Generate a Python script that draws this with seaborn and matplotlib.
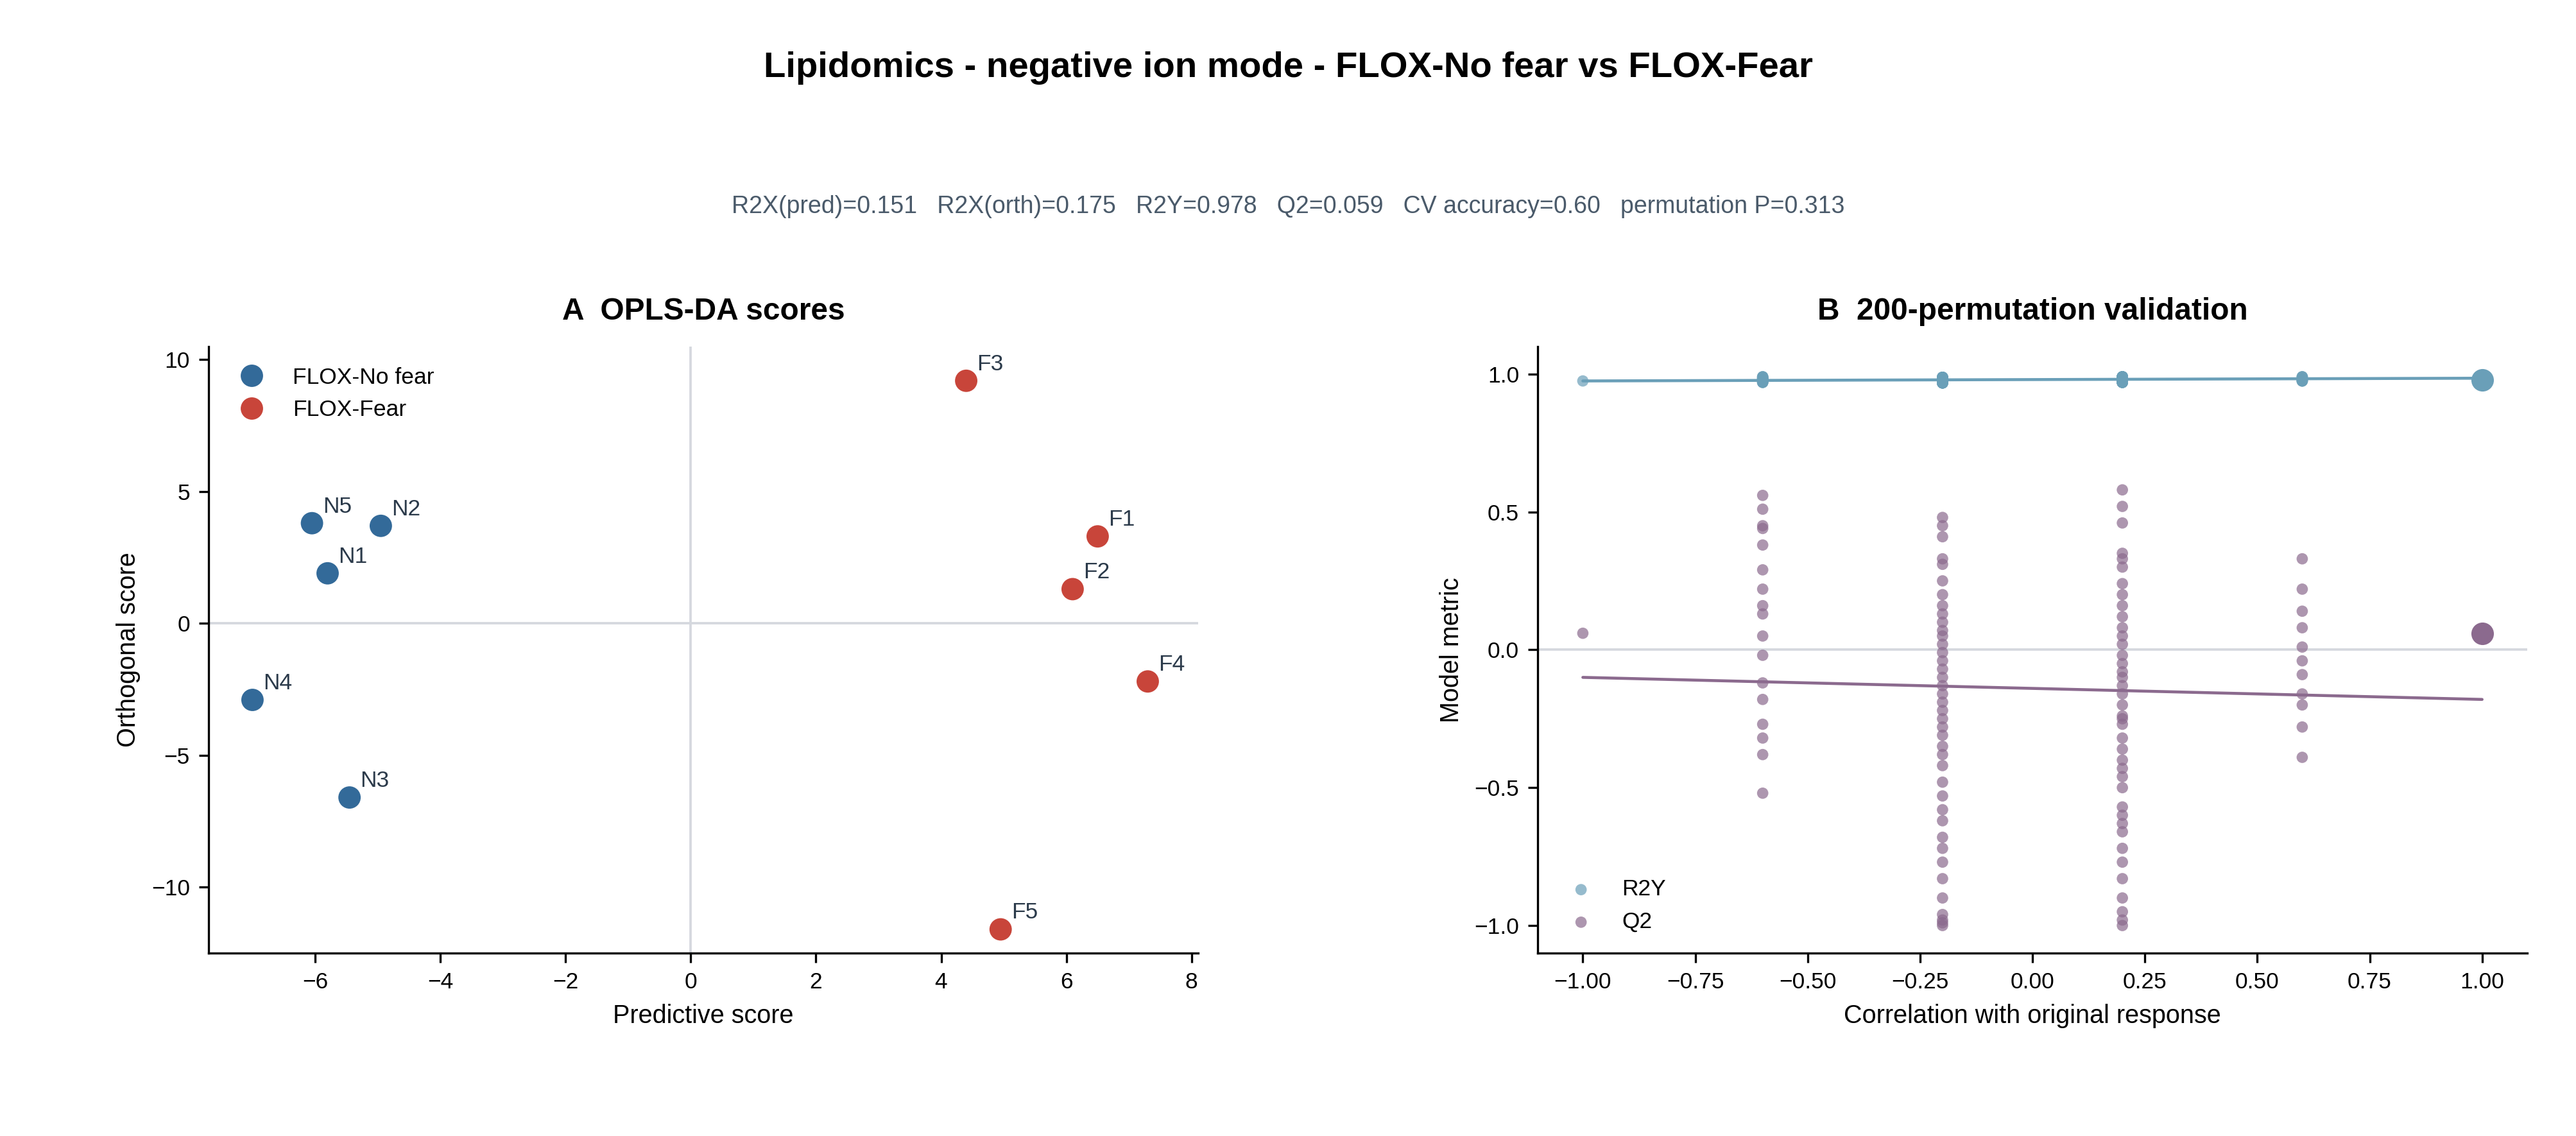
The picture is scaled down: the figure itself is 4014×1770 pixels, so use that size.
import numpy as np
import pandas as pd
import seaborn as sns
import matplotlib.pyplot as plt

# DATA
labels = ["N1", "N2", "N3", "N4", "N5", "F1", "F2", "F3", "F4", "F5"]
groups = ["FLOX-No fear"] * 5 + ["FLOX-Fear"] * 5
pred_score = [-5.8, -4.95, -5.45, -7.0, -6.05, 6.5, 6.1, 4.4, 7.3, 4.95]
orth_score = [1.9, 3.7, -6.6, -2.9, 3.8, 3.3, 1.3, 9.2, -2.2, -11.6]

perm_x = [-1.0] + [-0.6] * 17 + [-0.2] * 40 + [0.2] * 40 + [0.6] * 11
q2_perm = ([0.06]
           + [0.56, 0.51, 0.45, 0.44, 0.38, 0.29, 0.22, 0.16, 0.13, 0.05, -0.02, -0.12,
              -0.18, -0.27, -0.32, -0.38, -0.52]
           + [0.48, 0.45, 0.41, 0.33, 0.31, 0.25, 0.2, 0.16, 0.13, 0.1, 0.07, 0.05, 0.02,
              -0.01, -0.04, -0.07, -0.1, -0.13, -0.16, -0.19, -0.22, -0.25, -0.28, -0.31,
              -0.35, -0.38, -0.42, -0.48, -0.53, -0.58, -0.62, -0.68, -0.72, -0.77, -0.83,
              -0.9, -0.96, -0.98, -1.0, -0.99]
           + [0.58, 0.52, 0.46, 0.35, 0.33, 0.3, 0.24, 0.2, 0.16, 0.12, 0.08, 0.05, 0.02,
              -0.02, -0.05, -0.08, -0.1, -0.13, -0.16, -0.2, -0.24, -0.27, -0.32, -0.36,
              -0.43, -0.46, -0.5, -0.57, -0.6, -0.63, -0.66, -0.72, -0.77, -0.83, -0.9,
              -0.95, -0.98, -1.0, -0.4, -0.25]
           + [0.33, 0.22, 0.14, 0.08, 0.01, -0.04, -0.09, -0.16, -0.2, -0.28, -0.39])
r2y_perm = ([0.975]
            + [0.970, 0.980, 0.990, 0.975, 0.985, 0.970, 0.980, 0.990, 0.975, 0.985,
               0.970, 0.980, 0.990, 0.975, 0.985, 0.970, 0.980]
            + [0.968, 0.975, 0.982, 0.988] * 10
            + [0.970, 0.977, 0.984, 0.990] * 10
            + [0.975, 0.982, 0.990, 0.975, 0.982, 0.990, 0.975, 0.982, 0.990, 0.975, 0.982])
orig_x = 1.0
orig_r2y = 0.978
orig_q2 = 0.059
line_x = [-1.0, 1.0]
r2y_line = [0.975, 0.985]
q2_line = [-0.10, -0.18]

blue, red = "#336a99", "#c8453a"
c_r2y, c_q2 = "#6a9fb8", "#8b6a8e"

sns.set_style("ticks")
plt.rcParams["font.family"] = ["Liberation Sans", "DejaVu Sans"]
plt.rcParams["text.color"] = "black"
plt.rcParams["axes.labelcolor"] = "black"
plt.rcParams["xtick.color"] = "black"
plt.rcParams["ytick.color"] = "black"
plt.rcParams["axes.edgecolor"] = "black"

fig = plt.figure(figsize=(13.38, 5.9), dpi=300)
ax1 = fig.add_axes([0.081, 0.161, 0.384, 0.534])
ax2 = fig.add_axes([0.597, 0.161, 0.384, 0.534])

fig.text(0.5, 0.94, "Lipidomics - negative ion mode - FLOX-No fear vs FLOX-Fear",
         ha="center", va="center", fontsize=13.5, fontweight="bold")
fig.text(0.5, 0.818, "R2X(pred)=0.151   R2X(orth)=0.175   R2Y=0.978   Q2=0.059   "
         "CV accuracy=0.60   permutation P=0.313", ha="center", va="center",
         fontsize=9, color="#4a5a6a")

# A scores
df = pd.DataFrame({"x": pred_score, "y": orth_score, "g": groups, "lab": labels})
ax1.axhline(0, color="#d5d8de", lw=0.9, zorder=0)
ax1.axvline(0, color="#d5d8de", lw=0.9, zorder=0)
sns.scatterplot(data=df, x="x", y="y", hue="g", palette=[blue, red], s=70,
                edgecolor="none", ax=ax1)
for _, r in df.iterrows():
    ax1.annotate(r["lab"], (r["x"], r["y"]), xytext=(4, 4), textcoords="offset points",
                 fontsize=8.5, color="#2b3a4a")
ax1.set_xlim(-7.7, 8.1)
ax1.set_ylim(-12.5, 10.5)
ax1.set_xticks(range(-6, 9, 2))
ax1.set_yticks([-10, -5, 0, 5, 10])
ax1.set_xlabel("Predictive score", fontsize=9.5)
ax1.set_ylabel("Orthogonal score", fontsize=9.5)
ax1.set_title("A  OPLS-DA scores", fontsize=11.5, fontweight="bold", pad=10)
ax1.legend(loc="upper left", frameon=False, fontsize=8.5, title=None)
ax1.tick_params(labelsize=8.5)

# B permutation
pdf = pd.DataFrame({"x": perm_x, "r2y": r2y_perm, "q2": q2_perm})
ax2.axhline(0, color="#d5d8de", lw=0.9, zorder=0)
sns.scatterplot(data=pdf, x="x", y="r2y", color=c_r2y, alpha=0.7, s=18,
                edgecolor="none", label="R2Y", ax=ax2)
sns.scatterplot(data=pdf, x="x", y="q2", color=c_q2, alpha=0.7, s=18,
                edgecolor="none", label="Q2", ax=ax2)
sns.lineplot(x=line_x, y=r2y_line, color=c_r2y, lw=1.1, ax=ax2)
sns.lineplot(x=line_x, y=q2_line, color=c_q2, lw=1.1, ax=ax2)
ax2.scatter([orig_x], [orig_r2y], s=55, color=c_r2y, zorder=5)
ax2.scatter([orig_x], [orig_q2], s=55, color=c_q2, zorder=5)
ax2.set_xlim(-1.1, 1.1)
ax2.set_ylim(-1.1, 1.1)
ax2.set_xticks(np.arange(-1, 1.01, 0.25))
ax2.set_xticklabels(["−1.00", "−0.75", "−0.50", "−0.25", "0.00", "0.25", "0.50", "0.75", "1.00"])
ax2.set_yticks([-1, -0.5, 0, 0.5, 1])
ax2.set_yticklabels(["−1.0", "−0.5", "0.0", "0.5", "1.0"])
ax2.set_xlabel("Correlation with original response", fontsize=9.5)
ax2.set_ylabel("Model metric", fontsize=9.5)
ax2.set_title("B  200-permutation validation", fontsize=11.5, fontweight="bold", pad=10)
ax2.legend(loc="lower left", frameon=False, fontsize=8.5)
ax2.tick_params(labelsize=8.5)

sns.despine(fig)
fig.savefig("out.png", dpi=300)
